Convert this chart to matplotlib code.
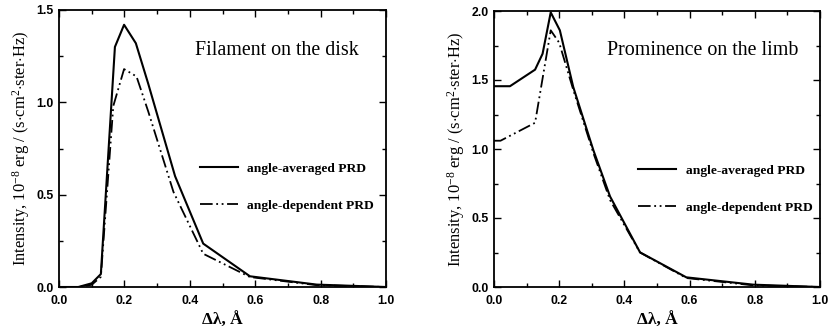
import matplotlib
matplotlib.use("Agg")
import matplotlib.pyplot as plt
from matplotlib.ticker import MultipleLocator

# ---- data ----
fil_avg_x = [0.0, 0.059, 0.10, 0.128, 0.171, 0.199, 0.235, 0.273, 0.355, 0.441, 0.584, 0.788, 1.0]
fil_avg_y = [0.0, 0.0, 0.02, 0.07, 1.30, 1.42, 1.32, 1.10, 0.60, 0.235, 0.058, 0.013, 0.0]
fil_dep_x = [0.0, 0.059, 0.10, 0.128, 0.166, 0.199, 0.237, 0.273, 0.350, 0.441, 0.584, 0.788, 1.0]
fil_dep_y = [0.0, 0.0, 0.012, 0.055, 0.98, 1.18, 1.14, 0.95, 0.515, 0.18, 0.054, 0.01, 0.0]

pro_avg_x = [0.0, 0.049, 0.126, 0.149, 0.174, 0.202, 0.243, 0.305, 0.356, 0.448, 0.59, 0.795, 1.0]
pro_avg_y = [1.455, 1.455, 1.575, 1.69, 1.99, 1.86, 1.45, 0.99, 0.656, 0.251, 0.07, 0.017, 0.0]
pro_dep_x = [0.0, 0.02, 0.126, 0.174, 0.200, 0.243, 0.305, 0.356, 0.448, 0.59, 0.795, 1.0]
pro_dep_y = [1.06, 1.06, 1.19, 1.86, 1.77, 1.43, 0.97, 0.63, 0.25, 0.065, 0.012, 0.0]

label_avg = "angle-averaged PRD"
label_dep = "angle-dependent PRD"
titles = ["Filament on the disk", "Prominence on the limb"]
ylabel = r"Intensity, 10$^{-8}$ erg / (s$\cdot$cm$^{2}$$\cdot$ster$\cdot$Hz)"
xlabel = "Δλ, Å"

plt.rcParams['mathtext.fontset'] = 'custom'
plt.rcParams['mathtext.rm'] = 'Liberation Serif'
plt.rcParams['mathtext.it'] = 'Liberation Serif:italic'

fig = plt.figure(figsize=(8.30, 3.29), dpi=100)
axes_pos = [[59/830, 42/329, 327/830, 277/329],
            [494/830, 42/329, 326/830, 276/329]]
data = [(fil_avg_x, fil_avg_y, fil_dep_x, fil_dep_y, 1.5),
        (pro_avg_x, pro_avg_y, pro_dep_x, pro_dep_y, 2.0)]
title_pos = [(0.415, 0.855), (0.347, 0.857)]
leg_pos = [(0.432, 0.36), (0.443, 0.355)]
dashdot = (0, (7, 2, 1, 2, 1, 2))

for i, (ax_p, d) in enumerate(zip(axes_pos, data)):
    ax = fig.add_axes(ax_p)
    ax.plot(d[0], d[1], color='black', lw=1.5, label=label_avg)
    ax.plot(d[2], d[3], color='black', lw=1.3, linestyle=dashdot, label=label_dep)
    ax.set_xlim(0, 1)
    ax.set_ylim(0, d[4])
    ax.xaxis.set_major_locator(MultipleLocator(0.2))
    ax.xaxis.set_minor_locator(MultipleLocator(0.1))
    ax.yaxis.set_major_locator(MultipleLocator(0.5))
    ax.yaxis.set_minor_locator(MultipleLocator(0.25))
    ax.tick_params(which='both', direction='in', top=True, right=True, width=1.0)
    ax.tick_params(which='major', length=5)
    ax.tick_params(which='minor', length=3)
    for s in ax.spines.values():
        s.set_linewidth(1.3)
    ax.set_xticks([0, 0.2, 0.4, 0.6, 0.8, 1.0])
    ax.set_xticklabels(["0.0", "0.2", "0.4", "0.6", "0.8", "1.0"],
                       fontfamily='Liberation Sans', fontweight='bold', fontsize=8.8)
    yt = [0.0, 0.5, 1.0, 1.5] if d[4] == 1.5 else [0.0, 0.5, 1.0, 1.5, 2.0]
    ax.set_yticks(yt)
    ax.set_yticklabels([f"{v:.1f}" for v in yt],
                       fontfamily='Liberation Sans', fontweight='bold', fontsize=8.8)
    ax.tick_params(axis='x', pad=6)
    ax.tick_params(axis='y', pad=4)
    ax.set_ylabel(ylabel, fontfamily='Liberation Serif', fontsize=11.9, labelpad=3)
    ax.set_xlabel(xlabel, fontfamily='Liberation Serif', fontweight='bold', fontsize=12.5, labelpad=4)
    ax.text(title_pos[i][0], title_pos[i][1], titles[i], transform=ax.transAxes,
            fontfamily='Liberation Serif', fontsize=14.4, va='center', ha='left')
    ax.legend(loc='center left', bbox_to_anchor=leg_pos[i], frameon=False,
              prop={'family': 'Liberation Serif', 'size': 9.7, 'weight': 'bold'},
              handlelength=2.8, labelspacing=1.8, handletextpad=0.7,
              borderpad=0, borderaxespad=0)

fig.savefig("out.png", dpi=100)
